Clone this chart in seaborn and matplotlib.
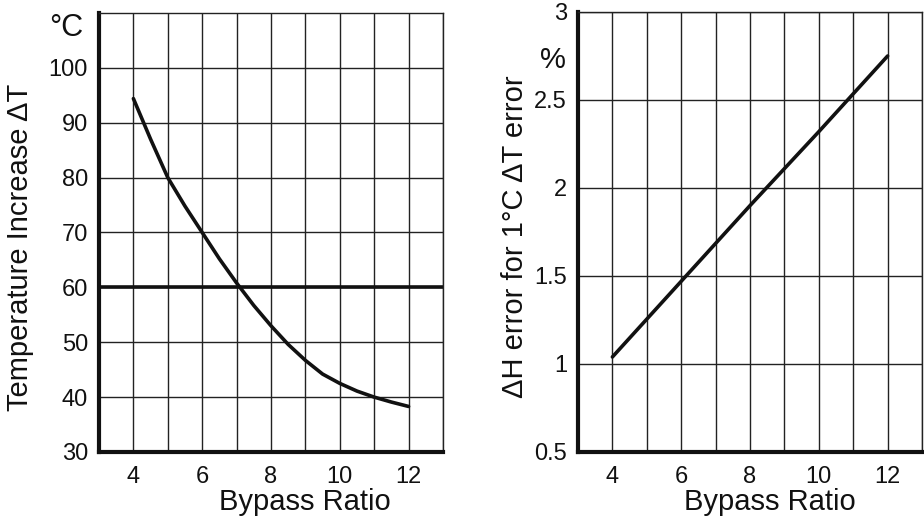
import matplotlib
matplotlib.use("Agg")
import matplotlib.pyplot as plt
import seaborn as sns
import pandas as pd

# ---- data ----
bypass_left = [4, 4.5, 5, 5.5, 6, 6.5, 7, 7.5, 8, 8.5, 9, 9.5, 10, 10.5, 11, 11.5, 12]
temp_increase = [94.4, 87.0, 80.0, 74.8, 70.0, 65.2, 60.8, 56.7, 53.0, 49.6, 46.7,
                 44.2, 42.5, 41.1, 40.0, 39.1, 38.3]
bypass_right = [4, 6, 8, 10, 12]
dh_error = [1.04, 1.47, 1.90, 2.32, 2.75]
left_yticks = [30, 40, 50, 60, 70, 80, 90, 100]
right_yticks = [0.5, 1, 1.5, 2, 2.5, 3]
right_yticklabels = ["0.5", "1", "1.5", "2", "2.5", "3"]
x_major = [4, 6, 8, 10, 12]
x_minor = [3, 5, 7, 9, 11, 13]

sns.set_style("white")
plt.rcParams['font.family'] = ['Liberation Sans', 'DejaVu Sans']

fig = plt.figure(figsize=(9.24, 5.27), dpi=100)
W, H = 924, 527

def axes_px(x0, x1, ytop, ybot):
    return fig.add_axes([x0 / W, 1 - ybot / H, (x1 - x0) / W, (ybot - ytop) / H])

ax1 = axes_px(99, 443, 13, 452)
ax2 = axes_px(578, 922, 12, 452)

df1 = pd.DataFrame({"x": bypass_left, "y": temp_increase})
df2 = pd.DataFrame({"x": bypass_right, "y": dh_error})

for ax in (ax1, ax2):
    ax.set_xlim(3, 13)
    ax.set_xticks(x_major)
    ax.set_xticks(x_minor, minor=True)
    ax.grid(True, which="both", axis="x", color="#222222", lw=1.0)
    ax.grid(True, which="major", axis="y", color="#222222", lw=1.0)
    ax.tick_params(axis="both", which="both", direction="out", length=4, width=1,
                   color="#222222", labelsize=17, pad=4, labelcolor="#111111")
    ax.tick_params(axis="x", which="major", pad=6)
    for side in ("top", "right"):
        ax.spines[side].set_linewidth(1.0)
        ax.spines[side].set_color("#222222")
    for side in ("left", "bottom"):
        ax.spines[side].set_linewidth(3.0)
        ax.spines[side].set_color("#111111")
    ax.set_axisbelow(True)

# left panel
ax1.set_ylim(30, 110)
ax1.set_yticks(left_yticks)
sns.lineplot(data=df1, x="x", y="y", ax=ax1, color="#111111", lw=2.6)
ax1.axhline(60, color="#111111", lw=2.6, zorder=1.5)
ax1.set_xlabel("Bypass Ratio", fontsize=21, color="#111111")
ax1.xaxis.set_label_coords((305 - 99) / (443 - 99), -0.082)
ax1.set_ylabel("Temperature Increase ΔT", fontsize=21, color="#111111")
ax1.yaxis.set_label_coords((34 - 99) / (443 - 99), 0.467)
fig.text(66 / W, 1 - 28 / H, "°C", fontsize=22, ha="center", va="center", color="#111111")

# right panel
ax2.set_ylim(0.5, 3)
ax2.set_yticks(right_yticks)
ax2.set_yticklabels(right_yticklabels)
sns.lineplot(data=df2, x="x", y="y", ax=ax2, color="#111111", lw=2.6)
ax2.set_xlabel("Bypass Ratio", fontsize=21, color="#111111")
ax2.xaxis.set_label_coords((770 - 578) / (922 - 578), -0.082)
ax2.set_ylabel("ΔH error for 1°C ΔT error", fontsize=21, color="#111111")
ax2.yaxis.set_label_coords((529 - 578) / (922 - 578), 0.489)
fig.text(553 / W, 1 - 60 / H, "%", fontsize=21, ha="center", va="center", color="#111111")

fig.savefig("out.png", dpi=100)
